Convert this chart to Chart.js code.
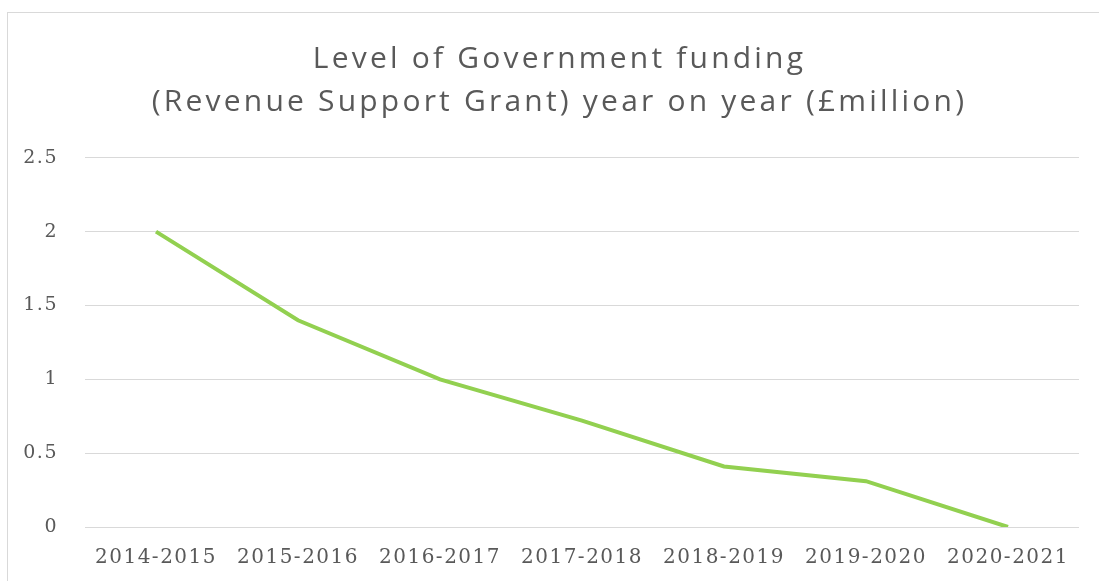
<!DOCTYPE html>
<html lang="en">
<head>
  <meta charset="UTF-8">
  <title>Level of Government funding</title>
  <script src="https://cdn.jsdelivr.net/npm/chart.js"></script>
  <style>
    body {
      margin: 0;
      background: #fff;
    }
    .frame {
      position: absolute;
      left: 7px;
      top: 12px;
      width: 1300px;
      height: 800px;
      border: 1.5px solid #d9d9d9;
    }
    .wrap {
      position: absolute;
      left: 0;
      top: 0;
      width: 1099px;
      height: 581px;
    }
  </style>
</head>
<body>
  <div class="frame"></div>
  <div class="wrap">
    <canvas id="fundingChart"></canvas>
  </div>

  <script>
    // data
    const years = ['2014-2015', '2015-2016', '2016-2017', '2017-2018', '2018-2019', '2019-2020', '2020-2021'];
    const grant = [2, 1.4, 1.0, 0.72, 0.41, 0.31, 0];
    const yTicks = [0, 0.5, 1, 1.5, 2, 2.5];

    // the picture's text is spaced out a little, so add letter spacing
    const spacing = {
      id: 'spacing',
      afterLayout(chart) {
        const t = chart.titleBlock;
        if (t && !t._spaced) {
          const draw = t.draw.bind(t);
          t.draw = function(area) {
            chart.ctx.save();
            chart.ctx.letterSpacing = '3.2px';
            chart.ctx.translate(20, 1); // title sits a bit right of the canvas centre
            draw(area);
            chart.ctx.restore();
          };
          t._spaced = true;
        }
      },
      beforeDraw(chart) { chart.ctx.letterSpacing = '1.5px'; },
      afterDraw(chart) { chart.ctx.letterSpacing = '0px'; }
    };

    const ctx = document.getElementById('fundingChart').getContext('2d');
    new Chart(ctx, {
      type: 'line',
      data: {
        labels: years,
        datasets: [{
          label: 'Revenue Support Grant',
          data: grant,
          borderColor: '#92d050',
          borderWidth: 4,
          pointRadius: 0,
          tension: 0,
          fill: false
        }]
      },
      options: {
        responsive: true,
        maintainAspectRatio: false,
        animation: false,
        layout: {
          padding: { left: 0, right: 20, top: 0, bottom: 0 }
        },
        plugins: {
          legend: { display: false },
          tooltip: { enabled: false },
          title: {
            display: true,
            text: ['Level of Government funding', '(Revenue Support Grant) year on year (\u00a3million)'],
            color: '#595959',
            font: { family: '"Open Sans", sans-serif', size: 30, weight: 'normal', lineHeight: 1.43 },
            padding: { top: 37, bottom: 35 }
          }
        },
        scales: {
          x: {
            offset: true,
            grid: { display: false },
            border: { display: false },
            ticks: {
              color: '#595959',
              font: { family: '"DejaVu Serif", serif', size: 20 },
              padding: 11,
              maxRotation: 0,
              autoSkip: false
            },
            afterFit: function(scale) { scale.height = 54; }
          },
          y: {
            min: 0,
            max: 2.5,
            afterBuildTicks: function(scale) {
              scale.ticks = yTicks.map(v => ({ value: v }));
            },
            grid: { color: '#d9d9d9', lineWidth: 1, drawTicks: false },
            border: { display: false },
            ticks: {
              color: '#595959',
              font: { family: '"DejaVu Serif", serif', size: 19 },
              padding: 27,
              callback: function(value) { return String(value); }
            },
            afterFit: function(scale) { scale.width = 85; }
          }
        }
      },
      plugins: [spacing]
    });
  </script>
</body>
</html>
